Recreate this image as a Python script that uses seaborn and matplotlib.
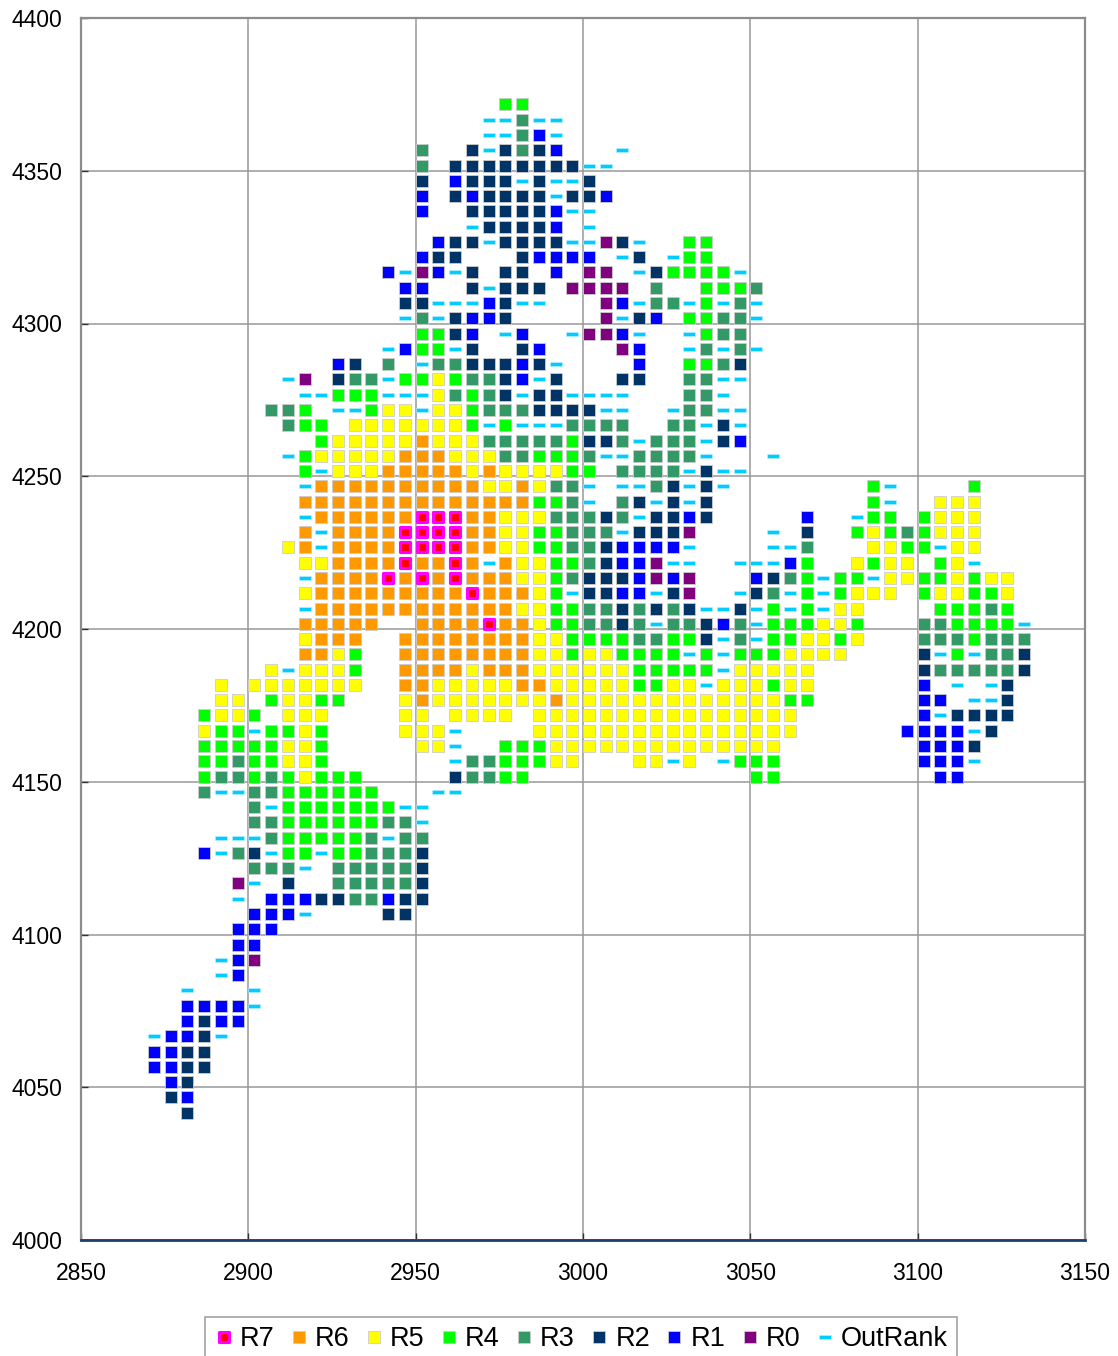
import matplotlib
matplotlib.use('Agg')
import matplotlib.pyplot as plt
import pandas as pd
import seaborn as sns
from matplotlib.path import Path

# --- Data: one row of the map per northing ---
# cell codes: 0-7 = rank R0-R7, '-' = OutRank, '.' = empty
CELL_STEP = 5
row_data = [
    (4372, 2977, "44"),
    (4367, 2972, "--3--"),
    (4362, 2972, "--31-"),
    (4357, 2952, "3..2-2321...-"),
    (4352, 2952, "3.22222222--"),
    (4347, 2952, "2.1222-2--2"),
    (4342, 2952, "1.212222-221"),
    (4337, 2952, "1..222221--"),
    (4332, 2967, "-22221.-"),
    (4327, 2957, "122-2222--02-..44"),
    (4322, 2952, "122...21111.-2.-44"),
    (4317, 2942, "1-01-2.22.1.00.-24444-"),
    (4312, 2947, "11..2-222.0000.3..4443"),
    (4307, 2947, "22---12--...01-33-4-3-"),
    (4302, 2947, "-3-2112.....0-21.4433-"),
    (4297, 2952, "4421.-1..-001-..-433"),
    (4292, 2942, "-144-2..21....01..-3-3-"),
    (4287, 2927, "12.3.-3322212-....1..4432"),
    (4282, 2912, "-0.233-44543321-2...22..33--"),
    (4277, 2917, "--444---53432-22----...33-"),
    (4272, 2907, "334.--455-5543332222--..-33--"),
    (4267, 2912, "344.55555554-4---3333..33-2-"),
    (4262, 2922, "4555556555333334223-333-21"),
    (4257, 2912, "-455555666555334443--3333-...-"),
    (4252, 2917, "4-5556666656555544.3333-2--"),
    (4247, 2917, "-6666666666556533-.--32-2-........4-....4"),
    (4242, 2917, "66666666666666443-.32-2-2.........4-..555"),
    (4237, 2917, "-6666667776655533323-2212.....1..-44.4555"),
    (4232, 2917, "6-66667777665544333-2220....-.2..45434555"),
    (4227, 2912, "56-666677776655443321111-....--3...5544-55"),
    (4222, 2917, "55666676676-6554432110--..---14..5455.45-"),
    (4217, 2917, "-66667676766655432221010...1234-44-55445455"),
    (4212, 2917, "5666666666766654-2211-20..-23-4-4555.455445"),
    (4207, 2917, "-66666666666655443323232--2-4-4-55....44434"),
    (4202, 2917, "66666..66667665443323-33213-444554...334444-"),
    (4197, 2917, "5666..6666666655444433442-3-445545...3334333"),
    (4192, 2917, "6654..66666666554554444-4-4445555....2-4-332"),
    (4187, 2907, "5-5554..6666566655555544444-55555......2333332"),
    (4182, 2892, "5.5555555..665555566555554455-555455......1.-.-2"),
    (4177, 2892, "55.45544...5655555556555555555555544......11.--2"),
    (4172, 2887, "4554.555....55.5555.5555555555555555.......1-2222"),
    (4167, 2887, "544-4454....555-....5555555555555555......1111-2"),
    (4162, 2887, "44444554.....55-..44455555555555555........1112"),
    (4157, 2887, "44344554.......-3344455...55-5.-444........111-"),
    (4152, 2887, "4334345444.....23344.............44.........11"),
    (4147, 2887, "3--33444444...--"),
    (4142, 2902, "3-4444444--"),
    (4137, 2902, "3344444433-"),
    (4132, 2892, "---3444443-33"),
    (4127, 2887, "1-32-44-443332"),
    (4122, 2902, "333-.333332"),
    (4117, 2897, "0-.2..333332"),
    (4112, 2897, "-.1112233122"),
    (4107, 2902, "111-....22"),
    (4102, 2897, "111"),
    (4097, 2897, "11"),
    (4092, 2892, "-10"),
    (4087, 2892, "-1"),
    (4082, 2882, "-...-"),
    (4077, 2882, "1111-"),
    (4072, 2882, "1211"),
    (4067, 2872, "-112-"),
    (4062, 2872, "1122"),
    (4057, 2872, "1122"),
    (4052, 2877, "12"),
    (4047, 2877, "21"),
    (4042, 2882, "2"),
]

rank_codes = ['7', '6', '5', '4', '3', '2', '1', '0', '-']
rank_labels = ['R7', 'R6', 'R5', 'R4', 'R3', 'R2', 'R1', 'R0', 'OutRank']
rank_colors = ['#FF0000', '#FF9900', '#FFFF00', '#00FF00', '#339966',
               '#003366', '#0000FF', '#800080', '#00CCFF']

x_ticks = [2850, 2900, 2950, 3000, 3050, 3100, 3150]
y_ticks = [4000, 4050, 4100, 4150, 4200, 4250, 4300, 4350, 4400]

# --- Build a long table from the rows ---
records = []
for y, first_x, cells in row_data:
    for i, code in enumerate(cells):
        if code != '.':
            records.append((first_x + CELL_STEP * i - 0.2, y - 0.3, code))
df = pd.DataFrame(records, columns=['x', 'y', 'code'])

# --- Plot ---
sns.set_style('white')
plt.rcParams['font.family'] = ['Liberation Sans']

W, H = 1118, 1356
fig = plt.figure(figsize=(W / 100, H / 100), dpi=100)
ax = fig.add_axes([81 / W, 1 - 1240 / H, (1085 - 81) / W, (1240 - 18) / H])

# dash marker for OutRank: custom marker gets scaled to the marker size
dash = Path([(-1, -0.27), (1, -0.27), (1, 0.27), (-1, 0.27), (-1, -0.27)], closed=True)

for code, label, color in zip(rank_codes, rank_labels, rank_colors):
    sub = df[df['code'] == code]
    if code == '7':
        # red centre with magenta rim
        sns.scatterplot(data=sub, x='x', y='y', ax=ax, marker='s', s=45, color=color,
                        edgecolor='#FF00FF', linewidth=2.25, label=label, zorder=3)
    elif code == '-':
        sns.scatterplot(data=sub, x='x', y='y', ax=ax, marker=dash, s=84, color=color,
                        edgecolor='#BFEFFF', linewidth=0.4, label=label, zorder=3)
    else:
        sns.scatterplot(data=sub, x='x', y='y', ax=ax, marker='s', s=84, color=color,
                        edgecolor='#CCCCCC', linewidth=0.6, label=label, zorder=3)

ax.set_xlim(2850, 3150)
ax.set_ylim(4000, 4400)
ax.set_xticks(x_ticks)
ax.set_yticks(y_ticks)
ax.set_xlabel('')
ax.set_ylabel('')
ax.grid(True, color='#999999', linewidth=1.1)
ax.set_axisbelow(True)
ax.tick_params(axis='both', direction='in', length=5, width=1, color='#333333',
               left=True, bottom=True, labelsize=16.5, labelcolor='black')
ax.tick_params(axis='x', pad=16)
ax.tick_params(axis='y', pad=13.7)

for side in ['top', 'right', 'left']:
    ax.spines[side].set_color('#8C8C8C')
    ax.spines[side].set_linewidth(1.6)
ax.spines['bottom'].set_color('#1F3F66')
ax.spines['bottom'].set_linewidth(2)

handles, labels = ax.get_legend_handles_labels()
ax.legend_.remove()
leg = fig.legend(handles, labels, ncol=9, loc='upper left',
                 bbox_to_anchor=(205 / W, 1 - 1317 / H), bbox_transform=fig.transFigure,
                 fontsize=19.5, frameon=True, fancybox=False, edgecolor='#8C8C8C',
                 labelcolor='black', borderaxespad=0, borderpad=0.35, handlelength=0.7,
                 handletextpad=0.24, columnspacing=0.55, scatteryoffsets=[0.5])
leg.get_frame().set_linewidth(1.2)

plt.savefig('out.png', dpi=100)
plt.close()
